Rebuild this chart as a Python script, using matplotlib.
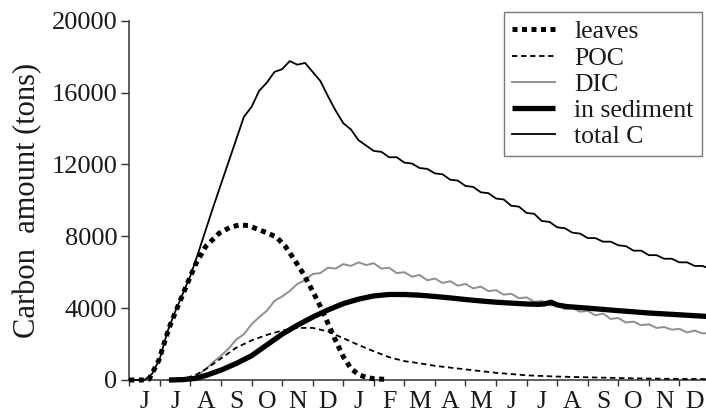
import numpy as np
import matplotlib
matplotlib.use("Agg")
import matplotlib.pyplot as plt
from matplotlib.ticker import FixedLocator, NullFormatter

plt.rcParams['font.family'] = ['Liberation Serif', 'DejaVu Serif']

# time axis in months from the start of the first June
month_labels = ["J", "J", "A", "S", "O", "N", "D", "J", "F", "M", "A", "M",
                "J", "J", "A", "S", "O", "N", "D"]
y_ticks = [0, 4000, 8000, 12000, 16000, 20000]

# carbon pools (tons)
leaves_t = [0, 0.5, 0.65, 0.97, 1.3, 1.63, 1.95, 2.2, 2.5, 2.94, 3.3, 3.6, 3.9,
            4.24, 4.5, 4.82, 5.1, 5.4, 5.7, 6.0, 6.25, 6.5, 6.75, 7.0, 7.25,
            7.5, 7.75, 8.0, 8.45]
leaves = [0, 0, 50, 1110, 2900, 4270, 5570, 6550, 7430, 8170, 8500, 8630, 8600,
          8360, 8200, 7950, 7450, 6700, 5900, 4950, 4100, 3150, 2200, 1300, 650,
          300, 150, 70, 30]

poc_t = [1.3, 1.75, 2.17, 2.5, 3.0, 3.5, 4.0, 4.5, 5.0, 5.5, 6.0, 6.5, 7.0, 7.5,
         8.0, 8.5, 9.0, 9.5, 10.0, 11.0, 12.0, 13.0, 14.0, 15.0, 16.0, 17.0,
         18.0, 19.0]
poc = [0, 50, 280, 600, 1200, 1800, 2200, 2510, 2750, 2900, 2900, 2700, 2330,
       1950, 1600, 1270, 1050, 930, 790, 590, 400, 260, 190, 150, 110, 80, 60, 50]

dic_t = list(np.arange(1.25, 19.01, 0.25))
dic = [0, 0, 20, 80, 280, 600, 1000, 1350, 1750, 2250, 2550, 3100, 3500, 3850,
       4400, 4650, 4950, 5350, 5550, 5900, 5950, 6250, 6200, 6450, 6350, 6550,
       6400, 6500, 6200, 6250, 5950, 6000, 5750, 5850, 5550, 5650, 5400, 5500,
       5250, 5350, 5100, 5200, 4950, 5000, 4750, 4800, 4550, 4600, 4350, 4400,
       4150, 4200, 3950, 4000, 3800, 3850, 3600, 3700, 3400, 3450, 3200, 3250,
       3050, 3100, 2900, 2950, 2800, 2850, 2650, 2750, 2600, 2600]

sed_t = [1.3, 1.75, 2.17, 2.5, 3.0, 3.5, 4.0, 4.5, 5.0, 5.5, 6.0, 6.5, 7.0, 7.5,
         8.0, 8.5, 9.0, 9.5, 10.0, 10.5, 11.0, 11.5, 12.0, 12.5, 13.0, 13.4,
         13.6, 13.8, 14.0, 14.3, 15.0, 16.0, 17.0, 18.0, 19.0]
sediment = [0, 20, 90, 250, 550, 920, 1350, 1950, 2550, 3050, 3500, 3900, 4250,
            4500, 4680, 4760, 4760, 4720, 4650, 4570, 4480, 4400, 4330, 4280,
            4230, 4210, 4240, 4330, 4180, 4090, 4000, 3860, 3730, 3630, 3530]

total_t = list(np.arange(0, 19.01, 0.25))
total = [0, 0, 0, 350, 1200, 2700, 3800, 4800, 5800, 7050, 8350, 9650, 10900,
         12150, 13400, 14650, 15200, 16100, 16550, 17150, 17300, 17750, 17550,
         17650, 17150, 16650, 15800, 15000, 14300, 13950, 13350, 13050, 12750,
         12700, 12400, 12400, 12100, 12050, 11800, 11750, 11500, 11450, 11150,
         11100, 10800, 10750, 10450, 10400, 10100, 10050, 9700, 9650, 9300,
         9250, 8850, 8800, 8500, 8450, 8200, 8150, 7900, 7900, 7700, 7700, 7500,
         7450, 7200, 7200, 6950, 6950, 6750, 6750, 6550, 6550, 6350, 6350, 6200]

W, H = 706, 417
fig = plt.figure(figsize=(W / 100, H / 100), dpi=100)
x0, x1, y0, y1 = 129.3, 706, 380, 20.7
ax = fig.add_axes([x0 / W, 1 - y0 / H, (x1 - x0) / W, (y0 - y1) / H])

ink = "#1a1a1a"
l_leaves, = ax.plot(leaves_t, leaves, color="black", lw=3.6,
                    linestyle=(0, (1, 0.9)), dash_capstyle="butt",
                    label="leaves", zorder=4, clip_on=False)
l_poc, = ax.plot(poc_t, poc, color="black", lw=1.3, linestyle=(0, (3, 2)),
                 label="POC", zorder=3, clip_on=False)
l_dic, = ax.plot(dic_t, dic, color="#8f8f8f", lw=1.4, label="DIC", zorder=2,
                 clip_on=False)
l_sed, = ax.plot(sed_t, sediment, color="black", lw=3.8,
                 solid_capstyle="butt", label="in sediment", zorder=3,
                 clip_on=False)
l_tot, = ax.plot(total_t, total, color="black", lw=1.3, label="total C",
                 zorder=5, clip_on=False)

ax.set_xlim(0, (x1 - x0) / 30.56)
ax.set_ylim(0, 20000)

for s in ["top", "right"]:
    ax.spines[s].set_visible(False)
for s in ["left", "bottom"]:
    ax.spines[s].set_color("#333333")
    ax.spines[s].set_linewidth(1.1)

ax.set_yticks(y_ticks)
ax.set_yticklabels([str(v) for v in y_ticks])
ax.tick_params(axis="y", direction="out", length=5.5, width=1.0,
               color="#333333", labelsize=19, labelcolor=ink, pad=3)

ax.xaxis.set_major_locator(FixedLocator(np.arange(0, 19)))
ax.xaxis.set_major_formatter(NullFormatter())
ax.xaxis.set_minor_locator(FixedLocator(np.arange(len(month_labels)) + 0.5))
ax.set_xticklabels(month_labels, minor=True)
ax.tick_params(axis="x", which="major", direction="out", length=4, width=1.0,
               color="#333333")
ax.tick_params(axis="x", which="minor", length=0, labelsize=18.5,
               labelcolor=ink, pad=8)

ax.set_ylabel("Carbon  amount (tons)", fontsize=22, color=ink, labelpad=7)

leg = ax.legend(handles=[l_leaves, l_poc, l_dic, l_sed, l_tot],
                loc="upper right", bbox_to_anchor=(702 / W, 1 - 12 / H),
                bbox_transform=fig.transFigure, borderaxespad=0,
                fontsize=18.5, frameon=True, fancybox=False, framealpha=1,
                edgecolor="#7a7a7a", handlelength=1.65, handletextpad=0.75,
                labelspacing=0.12, borderpad=0.33)
leg.get_frame().set_linewidth(1.0)
for t in leg.get_texts():
    t.set_color(ink)

fig.savefig("out.png", dpi=100)
